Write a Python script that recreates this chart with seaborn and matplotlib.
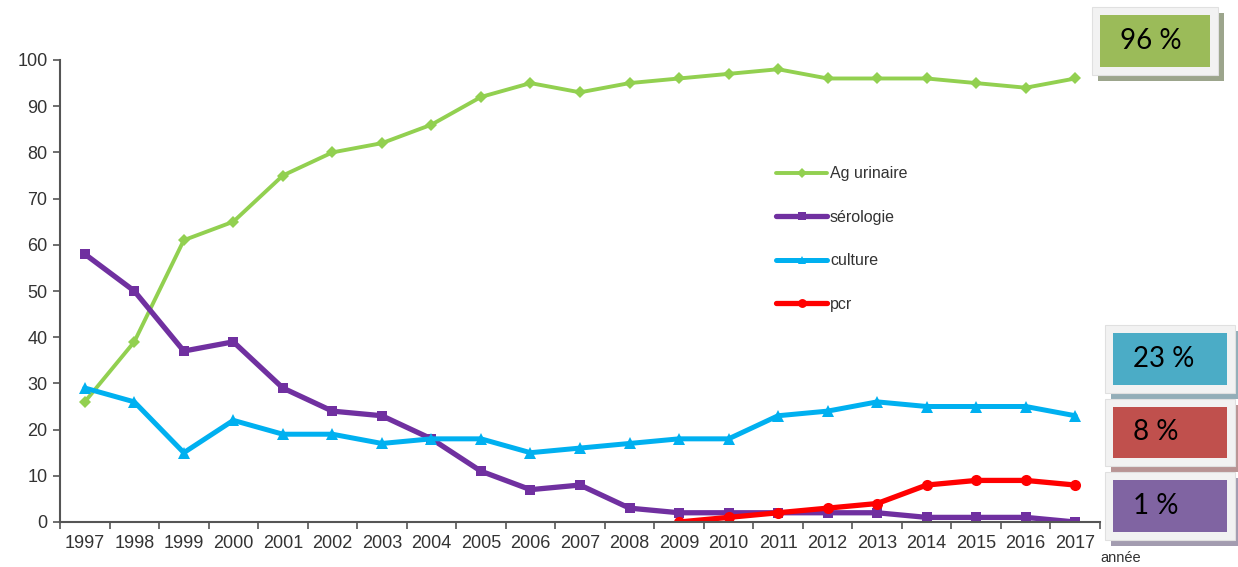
import numpy as np
import pandas as pd
import matplotlib
matplotlib.use("Agg")
import matplotlib.pyplot as plt
from matplotlib.patches import Rectangle
import seaborn as sns

years = list(range(1997, 2018))
ag_urinaire = [26, 39, 61, 65, 75, 80, 82, 86, 92, 95, 93, 95, 96, 97, 98, 96, 96, 96, 95, 94, 96]
serologie = [58, 50, 37, 39, 29, 24, 23, 18, 11, 7, 8, 3, 2, 2, 2, 2, 2, 1, 1, 1, 0]
culture = [29, 26, 15, 22, 19, 19, 17, 18, 18, 15, 16, 17, 18, 18, 23, 24, 26, 25, 25, 25, 23]
pcr = [np.nan] * 12 + [0, 1, 2, 3, 4, 8, 9, 9, 8]
series_names = ["Ag urinaire", "sérologie", "culture", "pcr"]
box_labels = ["96 %", "23 %", "8 %", "1 %"]

colors = {"Ag urinaire": "#92D050", "sérologie": "#7030A0", "culture": "#00B0F0", "pcr": "#FF0000"}
markers = {"Ag urinaire": "D", "sérologie": "s", "culture": "^", "pcr": "o"}

frames = []
for name, vals in zip(series_names, [ag_urinaire, serologie, culture, pcr]):
    frames.append(pd.DataFrame({"year": years, "value": vals, "serie": name}))
df = pd.concat(frames, ignore_index=True)

sns.set_style("white")
plt.rcParams['font.family'] = ['Liberation Sans', 'DejaVu Sans']

W, H = 1238, 567
fig = plt.figure(figsize=(W / 100, H / 100), dpi=100)
ax = fig.add_axes([60 / W, 1 - 522 / H, (1100 - 60) / W, (522 - 60) / H])

sns.lineplot(data=df, x="year", y="value", hue="serie", style="serie",
             palette=colors, markers=markers, dashes=False, ax=ax,
             markeredgewidth=0, legend=False)
lw = {"Ag urinaire": 2.8, "sérologie": 3.8, "culture": 3.6, "pcr": 3.8}
ms = {"Ag urinaire": 6, "sérologie": 6.5, "culture": 8, "pcr": 8}
for line, name in zip(ax.get_lines(), series_names):
    line.set_linewidth(lw[name])
    line.set_markersize(ms[name])

ax.set_xlim(1996.5, 2017.5)
ax.set_ylim(0, 100)
ax.set_xticks(years)
ax.set_xticklabels([str(y) for y in years])
ax.set_xticks([y - 0.5 for y in years] + [2017.5], minor=True)
ax.tick_params(axis="x", which="major", length=0, labelsize=13, pad=9, colors="#333333")
ax.tick_params(axis="x", which="minor", length=5, width=1.2, direction="out", color="#555555", bottom=True)
ax.set_yticks(range(0, 101, 10))
ax.tick_params(axis="y", length=5, width=1.2, direction="out", left=True, labelsize=13, colors="#555555", pad=4)
for lab in ax.get_yticklabels():
    lab.set_color("#333333")
ax.set_xlabel("")
ax.set_ylabel("")
for s in ["top", "right"]:
    ax.spines[s].set_visible(False)
for s in ["left", "bottom"]:
    ax.spines[s].set_color("#555555")
    ax.spines[s].set_linewidth(1.5)

# legend
handles = [plt.Line2D([], [], color=colors[n], marker=markers[n], lw=lw[n], ms=ms[n] * 0.8,
                      markeredgewidth=0) for n in series_names]
leg = fig.legend(handles, series_names, loc="upper left", bbox_to_anchor=(762 / W, 1 - 152 / H),
                 frameon=False, fontsize=11.5, handlelength=3.2, handletextpad=0.15,
                 labelspacing=1.78, numpoints=1)
for t in leg.get_texts():
    t.set_color("#333333")

fig.text(1100 / W, 1 - 562 / H, "année", fontsize=10.5, color="#333333", va="baseline")

def px(x, y):
    return x / W, 1 - y / H

def box(x0, y0, x1, y1, color, label, shadow):
    fig.patches.append(Rectangle(px(x0 - 8 + 6, y1 + 8 + 6), (x1 - x0 + 16) / W, (y1 - y0 + 16) / H,
                                 transform=fig.transFigure, facecolor=shadow, edgecolor="none", zorder=1))
    fig.patches.append(Rectangle(px(x0 - 8, y1 + 8), (x1 - x0 + 16) / W, (y1 - y0 + 16) / H,
                                 transform=fig.transFigure, facecolor="#F2F2F2", edgecolor="#E0E0E0",
                                 lw=0.8, zorder=2))
    fig.patches.append(Rectangle(px(x0, y1), (x1 - x0) / W, (y1 - y0) / H,
                                 transform=fig.transFigure, facecolor=color, edgecolor="none", zorder=3))
    fig.text((x0 + 20) / W, 1 - (y0 + y1) / 2 / H, label, fontsize=20, family=["Lato", "DejaVu Sans"],
             color="black", va="center", ha="left", zorder=4)

box(1100, 15, 1210, 67, "#9BBB59", box_labels[0], "#9CA58C")
box(1113, 333, 1227, 385, "#4BACC6", box_labels[1], "#93AEB8")
box(1113, 407, 1227, 458, "#C0504D", box_labels[2], "#B89494")
box(1113, 480, 1227, 532, "#8064A2", box_labels[3], "#A39CB0")

fig.savefig("out.png", dpi=100)
